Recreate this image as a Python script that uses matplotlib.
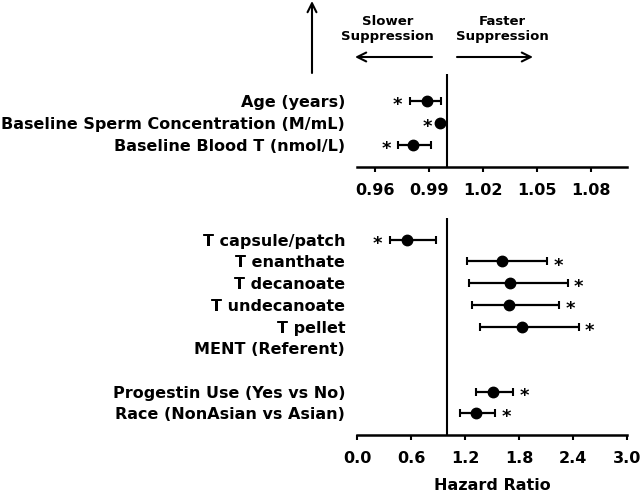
import numpy as np
import matplotlib
matplotlib.use("Agg")
import matplotlib.pyplot as plt

# continuous covariates (top panel)
cont_labels = ["Age (years)", "Baseline Sperm Concentration (M/mL)", "Baseline Blood T (nmol/L)"]
cont_hr = [0.989, 0.9962, 0.9813]
cont_lo = [0.9793, 0.9955, 0.973]
cont_hi = [0.9968, 0.9970, 0.9911]
cont_sig = [True, True, True]

# categorical covariates (bottom panel)
cat_labels = ["T capsule/patch", "T enanthate", "T decanoate", "T undecanoate", "T pellet",
              "MENT (Referent)", "", "Progestin Use (Yes vs No)", "Race (NonAsian vs Asian)"]
cat_hr = [0.561, 1.608, 1.70, 1.693, 1.838, np.nan, np.nan, 1.515, 1.318]
cat_lo = [0.364, 1.225, 1.24, 1.277, 1.366, np.nan, np.nan, 1.322, 1.144]
cat_hi = [0.876, 2.109, 2.34, 2.243, 2.462, np.nan, np.nan, 1.738, 1.534]
cat_sig = [True, True, True, True, True, False, False, True, True]

top_ticks = [0.96, 0.99, 1.02, 1.05, 1.08]
bot_ticks = [0.0, 0.6, 1.2, 1.8, 2.4, 3.0]

W, H = 640, 492
fig = plt.figure(figsize=(W / 100, H / 100), dpi=100)


def px(x, y):
    # pixel (from top-left) -> figure fraction
    return x / W, 1 - y / H


def forest(ax, labels, hr, lo, hi, sig, ypos):
    hr, lo, hi = np.array(hr), np.array(lo), np.array(hi)
    ax.errorbar(hr, ypos, xerr=[hr - lo, hi - hr], fmt="o", color="black",
                ms=7.5, elinewidth=1.6, capsize=3, capthick=1.5)
    ax.axvline(1.0, color="black", lw=1.5)
    for i in range(len(hr)):
        if not sig[i]:
            continue
        if hr[i] < 1:
            ax.annotate("*", (lo[i], ypos[i]), xytext=(-8.6, -3), textcoords="offset points",
                        ha="center", va="center", fontsize=13, fontweight="bold")
        else:
            ax.annotate("*", (hi[i], ypos[i]), xytext=(8, -3), textcoords="offset points",
                        ha="center", va="center", fontsize=13, fontweight="bold")
    for s in ["top", "right", "left"]:
        ax.spines[s].set_visible(False)
    ax.spines["bottom"].set_linewidth(1.8)
    ax.set_yticks(ypos)
    ax.set_yticklabels(labels, fontsize=11.5, fontweight="bold")
    ax.tick_params(axis="y", length=0, pad=8.5)
    ax.tick_params(axis="x", direction="out", length=3.5, width=1.5, pad=8, labelsize=11.5)
    for t in ax.get_xticklabels():
        t.set_fontweight("bold")


ax1 = fig.add_axes([357 / W, 1 - 167 / H, 270 / W, 93 / H])
ax1.set_xlim(0.95, 1.10)
ax1.set_ylim(0, 4)
ax1.set_xticks(top_ticks)
ax1.set_xticklabels([f"{t:.2f}" for t in top_ticks])
forest(ax1, cont_labels, cont_hr, cont_lo, cont_hi, cont_sig,
       0.95 * np.arange(len(cont_labels), 0, -1))

ax2 = fig.add_axes([357 / W, 1 - 435 / H, 270 / W, 217 / H])
ax2.set_xlim(0, 3.0)
ax2.set_ylim(0, 10)
ax2.set_xticks(bot_ticks)
ax2.set_xticklabels([f"{t:.1f}" for t in bot_ticks])
forest(ax2, cat_labels, cat_hr, cat_lo, cat_hi, cat_sig,
       np.arange(len(cat_labels), 0, -1))
ax2.set_xlabel("Hazard Ratio", fontsize=11.5, fontweight="bold", labelpad=9)

# direction arrows and captions
arrow = dict(arrowstyle="->", lw=1.5, color="black", mutation_scale=16, shrinkA=0, shrinkB=0)
plt.annotate("", xy=px(312, 1), xytext=px(312, 73), xycoords="figure fraction", arrowprops=arrow)
plt.annotate("", xy=px(355, 57), xytext=px(432, 57), xycoords="figure fraction", arrowprops=arrow)
plt.annotate("", xy=px(533, 57), xytext=px(457, 57), xycoords="figure fraction", arrowprops=arrow)
fig.text(*px(387.5, 29), "Slower\nSuppression", ha="center", va="center",
         fontsize=9.5, fontweight="bold", linespacing=1.25)
fig.text(*px(502.5, 29), "Faster\nSuppression", ha="center", va="center",
         fontsize=9.5, fontweight="bold", linespacing=1.25)

fig.savefig("out.png", dpi=100)
